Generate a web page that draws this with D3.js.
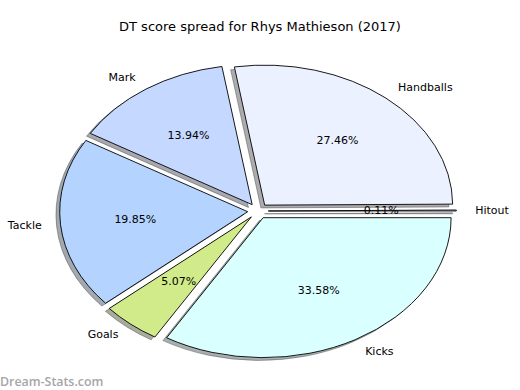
<!DOCTYPE html>
<html><head><meta charset="utf-8">
<script src="https://cdn.jsdelivr.net/npm/d3@7"></script>
<style>body{margin:0;background:#fff}svg{display:block}</style>
</head><body>
<svg id="chart" width="520" height="390"></svg>
<script>
const title = "DT score spread for Rhys Mathieson (2017)";
const categories = ["Hitout", "Handballs", "Mark", "Tackle", "Goals", "Kicks"];
const values = [0.11, 27.46, 13.94, 19.85, 5.07, 33.58];
const colors = ["#e0e8ff", "#ebf1ff", "#c5d8ff", "#b4d4ff", "#d1eb8b", "#daffff"];
const watermark = "Dream-Stats.com";

const svg = d3.select("#chart");
const cx = 258, cy = 211, rx = 188, ry = 140, explode = 0.055;

svg.append("text").attr("x", 260).attr("y", 26)
  .attr("text-anchor", "middle").attr("dominant-baseline", "central")
  .style("font-family", "DejaVu Sans").style("font-size", "13px").attr("fill", "#000")
  .text(title);

const pie = d3.pie().sort(null).value(d => d)
  .startAngle(Math.PI / 2).endAngle(Math.PI / 2 - 2 * Math.PI);
const arcs = pie(values);
const arc = d3.arc().innerRadius(0).outerRadius(1);

function off(a) {
  const m = (a.startAngle + a.endAngle) / 2;
  return { m, dx: explode * rx * Math.sin(m), dy: -explode * ry * Math.cos(m) };
}

const shadows = svg.append("g");
const wedges = svg.append("g");
arcs.forEach((a, i) => {
  const o = off(a);
  const c = d3.rgb(colors[i]);
  const sc = d3.rgb(c.r * 0.3, c.g * 0.3, c.b * 0.3).toString();
  shadows.append("path").attr("d", arc(a))
    .attr("transform", `translate(${cx + o.dx - 0.02 * rx},${cy + o.dy + 0.02 * ry}) scale(${rx},${ry})`)
    .attr("fill", sc).attr("stroke", sc).attr("fill-opacity", 0.45).attr("stroke-opacity", 0.45)
    .attr("vector-effect", "non-scaling-stroke").attr("stroke-width", 1);
  wedges.append("path").attr("d", arc(a))
    .attr("transform", `translate(${cx + o.dx},${cy + o.dy}) scale(${rx},${ry})`)
    .attr("fill", colors[i]).attr("stroke", "#000").attr("stroke-width", 0.9)
    .attr("stroke-linejoin", "miter")
    .attr("vector-effect", "non-scaling-stroke");
});

const labels = svg.append("g").style("font-family", "DejaVu Sans").style("font-size", "11px").attr("fill", "#000");
arcs.forEach((a, i) => {
  const o = off(a);
  const s = Math.sin(o.m), k = -Math.cos(o.m);
  const lx = cx + o.dx + 1.1 * rx * s, ly = cy + o.dy + 1.1 * ry * k;
  labels.append("text").attr("x", lx).attr("y", ly)
    .attr("text-anchor", lx > cx ? "start" : "end").attr("dominant-baseline", "central")
    .text(categories[i]);
  labels.append("text").attr("x", cx + o.dx + 0.6 * rx * s).attr("y", cy + o.dy + 0.6 * ry * k)
    .attr("text-anchor", "middle").attr("dominant-baseline", "central")
    .text(values[i].toFixed(2) + "%");
});

svg.append("text").attr("x", 0).attr("y", 381)
  .attr("dominant-baseline", "central")
  .style("font-family", "Open Sans").style("font-size", "12.4px").style("font-weight", 600)
  .attr("fill", "#a6a6a6").text(watermark);
</script>
</body></html>
